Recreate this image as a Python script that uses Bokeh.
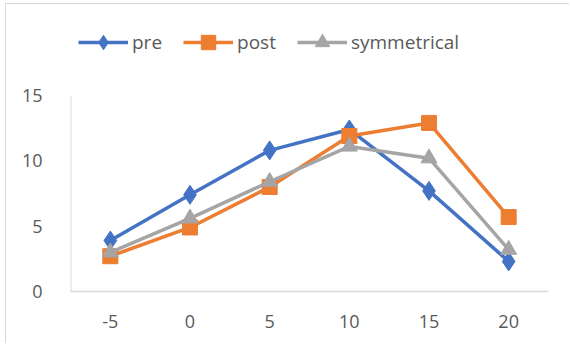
from bokeh.plotting import figure
from bokeh.models import Legend, LegendItem, FixedTicker
from bokeh.embed import file_html
from bokeh.resources import INLINE

# Categories along the x axis and the three series
categories = ["-5", "0", "5", "10", "15", "20"]
pre = [3.9, 7.4, 10.8, 12.4, 7.7, 2.3]
post = [2.7, 4.9, 8.0, 11.9, 12.9, 5.7]
symmetrical = [3.0, 5.6, 8.4, 11.1, 10.2, 3.2]
y_ticks = [0, 5, 10, 15]
y_max = 15

FONT = "Open Sans"
TEXT_COLOR = "#595959"
AXIS_COLOR = "#d9d9d9"

# The plot frame reaches up to the top of the canvas so the legend can sit
# inside it; the value axis itself only runs from 0 to 15.
TOP_BORDER = 0
BOTTOM_BORDER = 53
HEIGHT = 340
px_per_unit = (HEIGHT - BOTTOM_BORDER - 91) / y_max
y_top = y_max + (91 - TOP_BORDER) / px_per_unit

p = figure(
    x_range=categories, y_range=(0, y_top),
    width=564, height=HEIGHT,
    output_backend="svg", toolbar_location=None,
    min_border_left=64, min_border_right=22,
    min_border_top=TOP_BORDER, min_border_bottom=BOTTOM_BORDER,
)
p.styles = {
    "border-top": "1px solid #d9d9d9",
    "border-left": "1px solid #d9d9d9",
    "margin-left": "5px",
    "margin-top": "3px",
}
p.outline_line_color = None
p.xgrid.grid_line_color = None
p.ygrid.grid_line_color = None

for ax in (p.xaxis, p.yaxis):
    ax.axis_line_color = AXIS_COLOR
    ax.axis_line_width = 1.5
    ax.major_tick_line_color = None
    ax.minor_tick_line_color = None
    ax.major_label_text_color = TEXT_COLOR
    ax.major_label_text_font = FONT
    ax.major_label_text_font_size = "18px"

p.yaxis.axis_line_color = None
p.yaxis.ticker = FixedTicker(ticks=y_ticks)
p.yaxis.major_label_standoff = 22
p.xaxis.major_label_standoff = 17

# value axis line, from 0 up to the top tick
p.segment(x0=[(categories[0], -0.497)], y0=[0],
          x1=[(categories[0], -0.497)], y1=[y_max],
          line_color=AXIS_COLOR, line_width=1.5)

series = [
    ("pre", pre, "#4472C4", "diamond", 19),
    ("post", post, "#ED7D31", "square", 15),
    ("symmetrical", symmetrical, "#A5A5A5", "triangle", 16),
]

items = []
for name, vals, color, marker, size in series:
    ln = p.line(categories, vals, line_color=color, line_width=3.5)
    sc = p.scatter(categories, vals, marker=marker, size=size,
                   fill_color=color, line_color=color)
    items.append(LegendItem(label=name, renderers=[ln, sc]))

legend = Legend(
    items=items, orientation="horizontal",
    location=(8, 231),
    glyph_width=50, glyph_height=36,
    label_text_font=FONT, label_text_font_size="19px",
    label_text_color=TEXT_COLOR, label_standoff=4,
    spacing=21, padding=0, margin=0,
    border_line_color=None, background_fill_alpha=0,
)
p.add_layout(legend, "center")

open("out.html", "w").write(file_html(p, INLINE))
